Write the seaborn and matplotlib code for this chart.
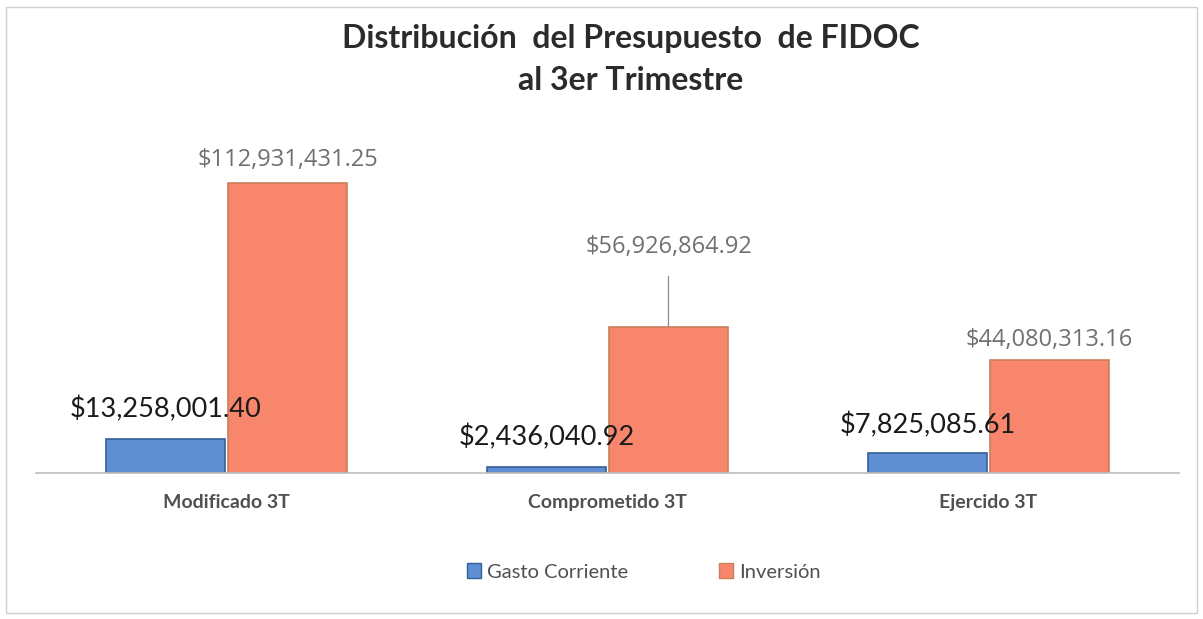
import numpy as np
import pandas as pd
import matplotlib
matplotlib.use("Agg")
import matplotlib.pyplot as plt
import seaborn as sns
from matplotlib.patches import Rectangle, Patch

categorias = ["Modificado 3T", "Comprometido 3T", "Ejercido 3T"]
series = ["Gasto Corriente", "Inversión"]
gasto_corriente = [13258001.40, 2436040.92, 7825085.61]
inversion = [112931431.25, 56926864.92, 44080313.16]

df = pd.DataFrame({
    "etapa": categorias * 2,
    "serie": [series[0]] * 3 + [series[1]] * 3,
    "monto": gasto_corriente + inversion,
})

sns.set_style("white")
plt.rcParams["font.family"] = ["Lato", "DejaVu Sans"]

colores = {"Gasto Corriente": "#5F8FD2", "Inversión": "#F8866D"}
bordes = {"Gasto Corriente": "#34609A", "Inversión": "#C97F5A"}

fig = plt.figure(figsize=(12.03, 6.19), dpi=100)
ax = fig.add_axes([0.030, 0.236, 0.950, 0.4985])

sns.barplot(data=df, x="etapa", y="monto", hue="serie", order=categorias,
            hue_order=series, palette=colores, saturation=1, width=0.64,
            gap=0.025, legend=False, ax=ax)

# bordes de las barras
for cont, s in zip(ax.containers, series):
    for p in cont:
        p.set_edgecolor(bordes[s])
        p.set_linewidth(1.2)

ax.set_xlim(-0.5, 2.5)
ax.set_ylim(0, 120e6)
ax.set_yticks([])
ax.set_xlabel("")
ax.set_ylabel("")
for s in ["top", "left", "right"]:
    ax.spines[s].set_visible(False)
ax.spines["bottom"].set_color("#BFBFBF")
ax.spines["bottom"].set_linewidth(1.2)
ax.tick_params(axis="x", length=0, pad=15, labelsize=14, labelcolor="#505050")
for t in ax.get_xticklabels():
    t.set_fontweight("bold")

# etiquetas de valores
def fmt(v):
    return "${:,.2f}".format(v)

offs_gasto = [21, 21, 20]
offs_inv = [16, 57, 14]
for p, v, o in zip(ax.containers[0], gasto_corriente, offs_gasto):
    ax.annotate(fmt(v), (p.get_x() + p.get_width() / 2, p.get_height()),
                xytext=(0, o), textcoords="offset points", ha="center",
                va="center", fontsize=19.5, color="#1a1a1a", annotation_clip=False)
for i, (p, v, o) in enumerate(zip(ax.containers[1], inversion, offs_inv)):
    kw = {}
    if i == 1:
        kw["arrowprops"] = dict(arrowstyle="-", color="#8C8C8C", lw=0.9,
                                shrinkA=10, shrinkB=0)
    ax.annotate(fmt(v), (p.get_x() + p.get_width() / 2, p.get_height()),
                xytext=(0, o), textcoords="offset points", ha="center",
                va="center", fontsize=17, color="#707070",
                family=["Open Sans", "DejaVu Sans"], annotation_clip=False, **kw)

fig.text(0.524, 0.938, "Distribución  del Presupuesto  de FIDOC",
         ha="center", va="center", fontsize=23, fontweight="bold", color="#2B2B2B")
fig.text(0.524, 0.870, "al 3er Trimestre",
         ha="center", va="center", fontsize=23, fontweight="bold", color="#2B2B2B")

handles = [Patch(facecolor=colores[s], edgecolor=bordes[s]) for s in series]
fig.legend(handles, series, loc="center", bbox_to_anchor=(0.535, 0.076), ncol=2,
           frameon=False, fontsize=14.5, handlelength=0.7, handleheight=0.7,
           handletextpad=0.3, columnspacing=4.5, labelcolor="#505050")

fig.patches.append(Rectangle((0.005, 0.01), 0.99, 0.978, transform=fig.transFigure,
                             fill=False, edgecolor="#D0D0D0", lw=1.0))

fig.savefig("out.png", dpi=100)
